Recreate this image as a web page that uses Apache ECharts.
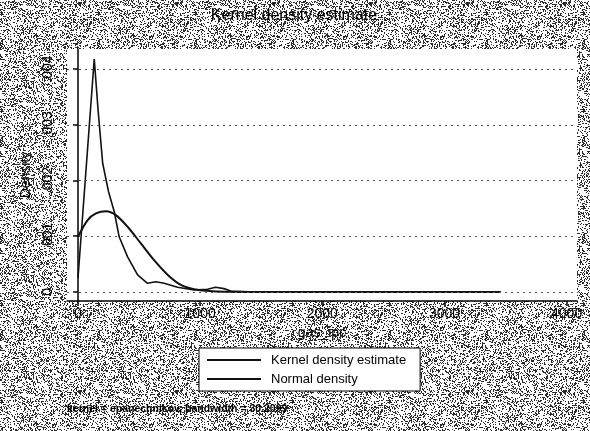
<!DOCTYPE html>
<html>
<head>
<meta charset="utf-8">
<script src="https://cdn.jsdelivr.net/npm/echarts@6/dist/echarts.min.js"></script>
<style>
html,body{margin:0;padding:0;background:#fff;}
#chart{width:590px;height:431px;}
</style>
</head>
<body>
<div id="chart"></div>
<script>
// ---- data ----
var kernelX = [0, 133, 165, 202, 250, 297, 337, 406, 488, 569, 637, 705, 815, 950, 1060, 1127, 1195, 1250, 1400, 2000, 3000, 3460];
var kernelY = [0.00025, 0.00418, 0.00325, 0.00231, 0.00180, 0.00144, 0.00099, 0.00063, 0.000305, 0.000156, 0.000185, 0.000156, 0.000084, 0.000036, 0.000048, 0.000084, 0.00006, 0.000018, 0.000005, 0.000002, 0.000001, 0.0];
var normalX = [0, 79, 147, 229, 310, 406, 515, 623, 733, 842, 950, 1100, 1300, 2000, 3000, 3460];
var normalY = [0.00099, 0.00129, 0.00141, 0.00145, 0.00138, 0.00117, 0.00087, 0.00057, 0.00031, 0.000126, 0.000048, 0.000012, 0.000001, 0.0, 0.0, 0.0];
var xTicks = [0, 1000, 2000, 3000, 4000];
var xTickLabels = ['0', '1000', '2000', '3000', '4000'];
var yTicks = [0, 0.001, 0.002, 0.003, 0.004];
var yTickLabels = ['0', '.001', '.002', '.003', '.004'];
var seriesNames = ['Kernel density estimate', 'Normal density'];
var titleText = 'Kernel density estimate';
var xTitle = 'gas_ipc';
var yTitle = 'Density';
var noteText = 'kernel = epanechnikov, bandwidth = 30.2099';

var X_MIN = -90, X_MAX = 4085;

function pairs(xs, ys) { return xs.map(function (x, i) { return [x, ys[i]]; }); }

// scanned-paper noise texture (deterministic hash, purely decorative)
var tex = document.createElement('canvas');
tex.width = 97; tex.height = 97;
var tc = tex.getContext('2d');
tc.fillStyle = '#ffffff'; tc.fillRect(0, 0, 97, 97);
tc.fillStyle = '#2a2a2a';
var s = 12345;
for (var yy = 0; yy < 97; yy++) {
  for (var xx = 0; xx < 97; xx++) {
    s = (s * 1103515245 + 12345) & 0x7fffffff;
    if ((s >> 8) % 100 < 30) tc.fillRect(xx, yy, 1, 1);
  }
}

var chart = echarts.init(document.getElementById('chart'), null, {renderer: 'canvas'});
var font = 'Liberation Sans, Arial, sans-serif';
chart.setOption({
  animation: false,
  backgroundColor: {image: tex, repeat: 'repeat'},
  textStyle: {fontFamily: font, color: '#000'},
  title: {
    text: titleText, left: 289, top: 3, textAlign: 'center',
    textStyle: {fontFamily: font, fontSize: 16, fontWeight: 'normal', color: '#000'}
  },
  grid: {
    left: 67, right: 13, top: 49, bottom: 130,
    show: true, backgroundColor: '#ffffff', borderWidth: 0
  },
  legend: {
    data: seriesNames, orient: 'vertical', left: 199, top: 348,
    backgroundColor: '#ffffff', borderColor: '#000', borderWidth: 1,
    padding: [4, 14, 4, 8], itemGap: 3, itemWidth: 54, itemHeight: 2, icon: 'rect',
    textStyle: {fontFamily: font, fontSize: 13, color: '#000', padding: [0, 0, 0, 5], lineHeight: 16}
  },
  graphic: [{
    type: 'text', left: 67, top: 404,
    style: {text: noteText, font: 'bold 10.5px ' + font, fill: '#000'}
  }],
  xAxis: {
    type: 'value', min: X_MIN, max: X_MAX,
    name: xTitle, nameLocation: 'middle', nameGap: 25,
    nameTextStyle: {fontFamily: font, fontSize: 14, color: '#000'},
    axisLine: {show: true, onZero: false, lineStyle: {color: '#000', width: 1.5}},
    axisTick: {show: true, length: 5, customValues: xTicks, lineStyle: {color: '#000', width: 1.5}},
    axisLabel: {
      customValues: xTicks, margin: 6, fontSize: 14, color: '#000', fontFamily: font,
      formatter: function (v) { var i = xTicks.indexOf(v); return i >= 0 ? xTickLabels[i] : ''; }
    },
    splitLine: {show: false}
  },
  yAxis: {
    type: 'value', min: -0.000162, max: 0.00436,
    name: yTitle, nameLocation: 'middle', nameGap: 27, nameRotate: 90,
    nameTextStyle: {fontFamily: font, fontSize: 14, color: '#000'},
    axisLine: {show: true, lineStyle: {color: '#000', width: 1.5}},
    axisTick: {show: true, length: 5, customValues: yTicks, lineStyle: {color: '#000', width: 1.5}},
    axisLabel: {
      customValues: yTicks, rotate: 90, margin: 12, fontSize: 14, color: '#000', fontFamily: font,
      formatter: function (v) {
        for (var i = 0; i < yTicks.length; i++) { if (Math.abs(yTicks[i] - v) < 1e-9) return yTickLabels[i]; }
        return '';
      }
    },
    splitLine: {show: false}
  },
  series: [
    {
      name: seriesNames[0], type: 'line', data: pairs(kernelX, kernelY), z: 3,
      showSymbol: false, smooth: false, color: '#111',
      lineStyle: {color: '#111', width: 1.6},
      markLine: {
        silent: true, symbol: ['none', 'none'], label: {show: false}, animation: false,
        lineStyle: {type: [2, 4], color: '#555', width: 1},
        data: yTicks.map(function (v) { return [{coord: [X_MIN, v]}, {coord: [X_MAX, v]}]; })
      }
    },
    {
      name: seriesNames[1], type: 'line', data: pairs(normalX, normalY), z: 3,
      showSymbol: false, smooth: 0.3, color: '#111',
      lineStyle: {color: '#111', width: 2}
    }
  ]
});
</script>
</body>
</html>
